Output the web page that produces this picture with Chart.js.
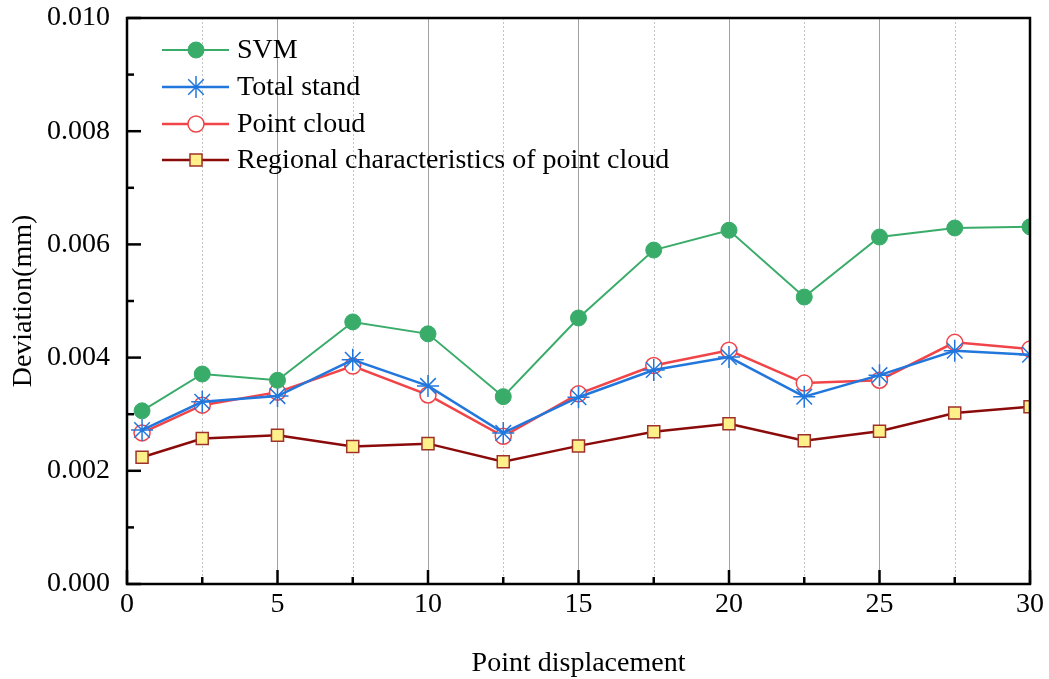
<!DOCTYPE html>
<html>
<head>
<meta charset="utf-8">
<script src="https://cdn.jsdelivr.net/npm/chart.js@4.4.1/dist/chart.umd.min.js"></script>
<style>
  html, body { margin: 0; padding: 0; background: #fff; }
  #wrap { width: 1049px; height: 679px; }
</style>
</head>
<body>
<div id="wrap"><canvas id="chart" width="1049" height="679"></canvas></div>
<script>
const xValues = [0.5, 2.5, 5, 7.5, 10, 12.5, 15, 17.5, 20, 22.5, 25, 27.5, 30];
const svm = [0.00306, 0.00371, 0.00360, 0.00463, 0.00442, 0.00331, 0.00470, 0.00590, 0.00625, 0.00507, 0.00613, 0.00629, 0.00631];
const totalStand = [0.00272, 0.00322, 0.00332, 0.00396, 0.00350, 0.00267, 0.00330, 0.00378, 0.00401, 0.00331, 0.00369, 0.00412, 0.00405];
const pointCloud = [0.00267, 0.00316, 0.00339, 0.00385, 0.00334, 0.00261, 0.00336, 0.00386, 0.00413, 0.00355, 0.00360, 0.00427, 0.00415];
const regional = [0.00224, 0.00257, 0.00263, 0.00243, 0.00248, 0.00216, 0.00244, 0.00269, 0.00283, 0.00253, 0.00270, 0.00302, 0.00313];
const seriesNames = ['SVM', 'Total stand', 'Point cloud', 'Regional characteristics of point cloud'];

const serif = '"Liberation Serif", "Times New Roman", serif';

function pts(arr) {
  return arr.map((v, i) => ({ x: xValues[i], y: v }));
}

const datasets = [
  { label: seriesNames[0], data: pts(svm), borderColor: '#3aac6a', backgroundColor: '#3aac6a',
    borderWidth: 2, pointStyle: 'circle', pointRadius: 8, pointBorderWidth: 1 },
  { label: seriesNames[1], data: pts(totalStand), borderColor: '#2277dd', backgroundColor: '#2277dd',
    borderWidth: 2.5, pointStyle: 'star', pointRadius: 11, pointBorderWidth: 1.5 },
  { label: seriesNames[2], data: pts(pointCloud), borderColor: '#f04448', backgroundColor: '#ffffff',
    borderWidth: 2.5, pointStyle: 'circle', pointRadius: 8, pointBorderWidth: 1.5 },
  { label: seriesNames[3], data: pts(regional), borderColor: '#8b0a0a', backgroundColor: '#fff08a',
    borderWidth: 2.5, pointStyle: 'rect', pointRadius: 8.5, pointBorderWidth: 1.5, pointBorderColor: '#a0302a' }
];
datasets.forEach(d => { d.tension = 0; d.fill = false; d.clip = 0; });

// minor dotted grid, inward ticks, frame and the line+marker legend
const framePlugin = {
  id: 'frame',
  beforeDatasetsDraw(chart) {
    const { ctx, chartArea: a } = chart;
    const xs = chart.scales.x;
    ctx.save();
    ctx.strokeStyle = '#c4c4c4';
    ctx.lineWidth = 1;
    ctx.setLineDash([2, 2]);
    for (let i = 0; i < xs.ticks.length - 1; i++) {
      const px = Math.round(xs.getPixelForValue((xs.ticks[i].value + xs.ticks[i + 1].value) / 2)) + 0.5;
      ctx.beginPath(); ctx.moveTo(px, a.top); ctx.lineTo(px, a.bottom); ctx.stroke();
    }
    ctx.restore();
  },
  afterDraw(chart) {
    const { ctx, chartArea: a } = chart;
    const xs = chart.scales.x, ys = chart.scales.y;
    ctx.save();
    ctx.strokeStyle = '#000';
    ctx.lineWidth = 2.5;
    ctx.setLineDash([]);
    xs.ticks.forEach((t, i) => {
      const px = xs.getPixelForValue(t.value);
      ctx.beginPath(); ctx.moveTo(px, a.bottom); ctx.lineTo(px, a.bottom - 14); ctx.stroke();
      if (i < xs.ticks.length - 1) {
        const mx = xs.getPixelForValue((t.value + xs.ticks[i + 1].value) / 2);
        ctx.beginPath(); ctx.moveTo(mx, a.bottom); ctx.lineTo(mx, a.bottom - 7); ctx.stroke();
      }
    });
    ys.ticks.forEach((t, i) => {
      const py = ys.getPixelForValue(t.value);
      ctx.beginPath(); ctx.moveTo(a.left, py); ctx.lineTo(a.left + 14, py); ctx.stroke();
      if (i < ys.ticks.length - 1) {
        const my = ys.getPixelForValue((t.value + ys.ticks[i + 1].value) / 2);
        ctx.beginPath(); ctx.moveTo(a.left, my); ctx.lineTo(a.left + 7, my); ctx.stroke();
      }
    });
    ctx.lineWidth = 2.5;
    ctx.strokeRect(a.left, a.top, a.right - a.left, a.bottom - a.top);

    // legend
    const lx0 = 162, lx1 = 229, mx = 196, tx = 237;
    const rowY = [50, 87, 124, 160];
    ctx.font = '28px ' + serif;
    ctx.textBaseline = 'middle';
    ctx.textAlign = 'left';
    chart.data.datasets.forEach((d, i) => {
      const y = rowY[i];
      ctx.strokeStyle = d.borderColor;
      ctx.lineWidth = d.borderWidth;
      ctx.beginPath(); ctx.moveTo(lx0, y); ctx.lineTo(lx1, y); ctx.stroke();
      ctx.fillStyle = d.backgroundColor;
      ctx.strokeStyle = d.pointBorderColor || d.borderColor;
      ctx.lineWidth = d.pointBorderWidth;
      Chart.helpers.drawPoint(ctx, { pointStyle: d.pointStyle, radius: d.pointRadius, rotation: 0, borderWidth: d.pointBorderWidth }, mx, y);
      ctx.fillStyle = '#000';
      ctx.fillText(d.label, tx, y + 1);
    });
    ctx.restore();
  }
};

new Chart(document.getElementById('chart'), {
  type: 'line',
  data: { datasets: datasets },
  options: {
    responsive: false,
    animation: false,
    layout: { padding: { top: 18, right: 19, left: 0, bottom: 0 } },
    plugins: { legend: { display: false }, tooltip: { enabled: false } },
    scales: {
      x: {
        type: 'linear', min: 0, max: 30,
        ticks: { stepSize: 5, color: '#000', padding: 4, font: { family: serif, size: 28 } },
        grid: { color: '#a0a0a0', lineWidth: 1, drawTicks: false },
        border: { display: false },
        title: { display: true, text: 'Point displacement', color: '#000',
                 font: { family: serif, size: 28, lineHeight: 1 }, padding: { top: 0, bottom: 1 } },
        afterFit(scale) { scale.height = 95; scale.paddingLeft = 0; scale.paddingRight = 0; }
      },
      y: {
        min: 0, max: 0.01,
        ticks: { stepSize: 0.002, color: '#000', padding: 17, font: { family: serif, size: 28 },
                 callback: v => v.toFixed(3) },
        grid: { drawOnChartArea: false, drawTicks: false },
        border: { display: false },
        title: { display: true, text: 'Deviation(mm)', color: '#000',
                 font: { family: serif, size: 28, lineHeight: 1 }, padding: { top: 10, bottom: 0 } },
        afterFit(scale) { scale.width = 127; scale.paddingTop = 0; scale.paddingBottom = 0; }
      }
    }
  },
  plugins: [framePlugin]
});
</script>
</body>
</html>
